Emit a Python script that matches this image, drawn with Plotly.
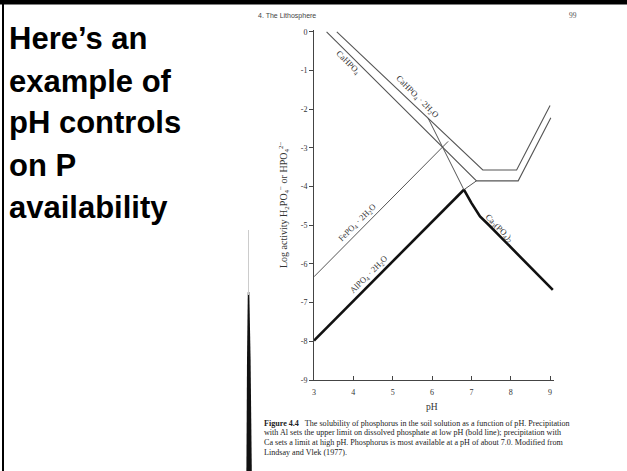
import plotly.graph_objects as go

# ---------------- data ----------------
ph_cahpo4 = [3.32, 7.13, 8.19, 9.02]
log_cahpo4 = [0.0, -3.85, -3.85, -2.22]

ph_cahpo4_2h2o = [3.58, 7.29, 8.15, 9.0]
log_cahpo4_2h2o = [0.0, -3.57, -3.57, -1.9]

ph_fepo4 = [3.0, 6.41]
log_fepo4 = [-6.33, -2.83]

ph_alpo4_bold = [3.0, 6.81]
log_alpo4_bold = [-7.98, -4.08]
ph_alpo4_thin = [6.81, 7.13]
log_alpo4_thin = [-4.08, -3.85]

ph_ca3_thin = [5.90, 6.81]
log_ca3_thin = [-2.23, -4.08]
ph_ca3_bold = [6.81, 7.0, 7.22, 7.45, 9.07]
log_ca3_bold = [-4.08, -4.42, -4.77, -5.0, -6.67]

x_ticks = [3, 4, 5, 6, 7, 8, 9]
x_tick_labels = ["3", "4", "5", "6", "7", "8", "9"]
y_ticks = [0, -1, -2, -3, -4, -5, -6, -7, -8, -9]
y_tick_labels = ["0", "-1", "-2", "-3", "-4", "-5", "-6", "-7", "-8", "-9"]

title_lines = ["Here’s an", "example of", "pH controls", "on P", "availability"]
caption_lines = [
    "<b>Figure 4.4</b>   The solubility of phosphorus in the soil solution as a function of pH. Precipitation",
    "with Al sets the upper limit on dissolved phosphate at low pH (bold line); precipitation with",
    "Ca sets a limit at high pH. Phosphorus is most available at a pH of about 7.0. Modified from",
    "Lindsay and Vlek (1977).",
]

# ---------------- layout geometry ----------------
W, H = 627, 471
L, R, T, B = 314, 73, 30, 91
PW = W - L - R
PH = H - T - B


def px(xp):
    return (xp - L) / PW


def py(yp):
    return (H - B - yp) / PH


THIN = "#555555"
SERIF = "Liberation Serif, Times New Roman, serif"
SANS = "Liberation Sans, Arial, sans-serif"

fig = go.Figure()


def add_line(x, y, color, width):
    fig.add_trace(go.Scatter(x=x, y=y, mode="lines", line=dict(color=color, width=width),
                             hoverinfo="skip", showlegend=False))


add_line(ph_cahpo4, log_cahpo4, THIN, 1.1)
add_line(ph_cahpo4_2h2o, log_cahpo4_2h2o, THIN, 1.1)
add_line(ph_fepo4, log_fepo4, THIN, 1.0)
add_line(ph_alpo4_thin, log_alpo4_thin, THIN, 1.0)
add_line(ph_ca3_thin, log_ca3_thin, THIN, 1.0)
add_line(ph_alpo4_bold, log_alpo4_bold, "#111111", 2.6)
add_line(ph_ca3_bold, log_ca3_bold, "#111111", 2.6)

ann = []

# curve labels (data coords)
lab_font = dict(family=SERIF, size=8.5, color="#333333")
for txt, x, y, ang in [
    ("CaHPO<sub>4</sub>", 3.86, -0.80, 45),
    ("CaHPO<sub>4</sub> · 2H<sub>2</sub>O", 5.61, -1.68, 45),
    ("FePO<sub>4</sub> · 2H<sub>2</sub>O", 4.11, -4.94, -45),
    ("AlPO<sub>4</sub> · 2H<sub>2</sub>O", 4.39, -6.26, -45),
    ("Ca<sub>3</sub>(PO<sub>4</sub>)<sub>2</sub>", 7.72, -5.07, 45),
]:
    ann.append(dict(text=txt, x=x, y=y, xref="x", yref="y", showarrow=False,
                    textangle=ang, font=lab_font, xanchor="center", yanchor="middle"))

# y-axis title
ann.append(dict(text="Log activity H<sub>2</sub>PO<sub>4</sub><sup>−</sup> or HPO<sub>4</sub><sup>2−</sup>",
                x=px(284), y=py(205), xref="paper", yref="paper", showarrow=False, textangle=-90,
                font=dict(family=SERIF, size=10, color="#333333"), xanchor="center", yanchor="middle"))
# x-axis title
ann.append(dict(text="pH", x=px(432), y=py(407), xref="paper", yref="paper", showarrow=False,
                font=dict(family=SERIF, size=9.5, color="#333333"), xanchor="center", yanchor="middle"))

# page header
ann.append(dict(text="4. The Lithosphere", x=px(256), y=py(16), xref="paper", yref="paper",
                showarrow=False, font=dict(family=SANS, size=7, color="#444444"),
                xanchor="left", yanchor="middle"))
ann.append(dict(text="99", x=px(573), y=py(16), xref="paper", yref="paper",
                showarrow=False, font=dict(family=SERIF, size=7.5, color="#555555"),
                xanchor="center", yanchor="middle"))

# caption
for i, line in enumerate(caption_lines):
    ann.append(dict(text=line, x=px(262), y=py(423 + 9.8 * i), xref="paper", yref="paper",
                    showarrow=False, font=dict(family=SERIF, size=8.1, color="#222222"),
                    xanchor="left", yanchor="middle"))

# slide title
for i, line in enumerate(title_lines):
    ann.append(dict(text="<b>" + line + "</b>", x=px(7), y=py(39 + 42 * i), xref="paper", yref="paper",
                    showarrow=False, font=dict(family=SANS, size=31, color="#000000"),
                    xanchor="left", yanchor="middle"))

shapes = [
    # slide border: top and left
    dict(type="line", xref="paper", yref="paper", x0=px(0), x1=px(W), y0=py(2.2), y1=py(2.2),
         line=dict(color="#000000", width=4.5), layer="above"),
    dict(type="line", xref="paper", yref="paper", x0=px(3), x1=px(3), y0=py(0), y1=py(H),
         line=dict(color="#000000", width=2), layer="above"),
    # scanned page edge (dark strip)
    dict(type="path", xref="paper", yref="paper",
         path="M {:.5f} {:.5f} L {:.5f} {:.5f} L {:.5f} {:.5f} L {:.5f} {:.5f} L {:.5f} {:.5f} L {:.5f} {:.5f} Z".format(
             px(247.8), py(292), px(249.3), py(292), px(250.6), py(360), px(251.8), py(H),
             px(246.4), py(H), px(247.0), py(360)),
         fillcolor="#111111", line=dict(width=0), layer="above"),
    dict(type="line", xref="paper", yref="paper", x0=px(248.5), x1=px(248.5), y0=py(230), y1=py(295),
         line=dict(color="#cccccc", width=1), layer="above"),
]

fig.update_layout(
    width=W, height=H,
    margin=dict(l=L, r=R, t=T, b=B, pad=0),
    paper_bgcolor="white", plot_bgcolor="white",
    showlegend=False,
    annotations=ann, shapes=shapes,
    xaxis=dict(range=[3, 9.1], tickvals=x_ticks, ticktext=x_tick_labels, ticks="inside", ticklen=4,
               tickcolor="#444444", showline=True, linecolor="#444444", linewidth=1,
               showgrid=False, zeroline=False, ticklabelstandoff=4,
               tickfont=dict(family=SERIF, size=8, color="#333333")),
    yaxis=dict(range=[-9, 0.05], tickvals=y_ticks, ticktext=y_tick_labels, ticks="outside", ticklen=4,
               tickcolor="#444444", showline=True, linecolor="#444444", linewidth=1,
               showgrid=False, zeroline=False,
               tickfont=dict(family=SERIF, size=8, color="#333333")),
)

fig.write_html("out.html", config={"displayModeBar": False},
               post_script="document.body.style.margin='0';document.body.style.overflow='hidden';")
